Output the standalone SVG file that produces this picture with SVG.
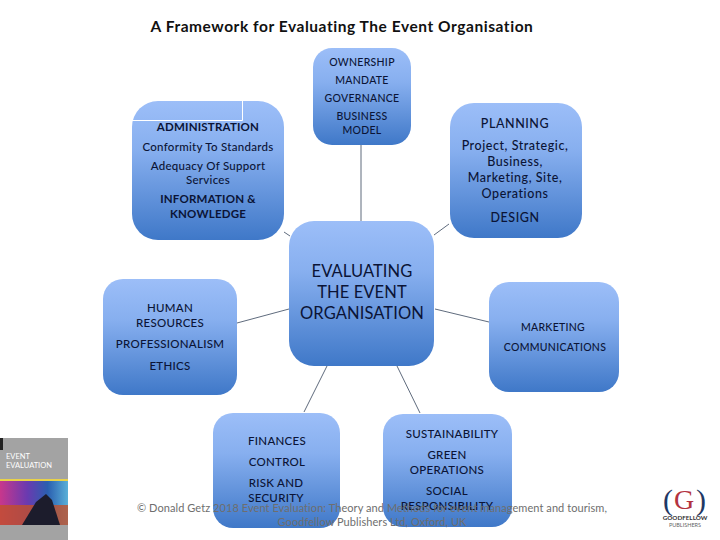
<svg xmlns="http://www.w3.org/2000/svg" width="720" height="540" viewBox="0 0 720 540">
<style>
text{font-family:Lato,"Noto Sans","Liberation Sans",sans-serif;text-anchor:middle;fill:#0b1436}
.s{font-size:11.5px;font-weight:500;letter-spacing:.28px}
.b{font-size:11.5px;font-weight:700;letter-spacing:.2px}
.p{font-size:12.500px;font-weight:500;letter-spacing:.55px}
.e{font-size:16.500px;letter-spacing:.1px}
.box{fill:url(#g)}
.c{stroke:#4d5a6e;stroke-width:.9;fill:none}
.f{font-size:11px;fill:#6e6e6e;letter-spacing:.07px}
</style>
<defs><linearGradient id="g" x1="0" y1="0" x2="0" y2="1"><stop offset="0" stop-color="#9cbef8"/><stop offset=".35" stop-color="#87afef"/><stop offset="1" stop-color="#3f78c8"/></linearGradient>
<linearGradient id="p" x1="0" y1="0" x2="1" y2="0"><stop offset="0" stop-color="#c8378c"/><stop offset=".4" stop-color="#6a3ab0"/><stop offset=".7" stop-color="#2a5fb0"/><stop offset="1" stop-color="#5ab0d8"/></linearGradient></defs>
<rect width="720" height="540" fill="#fff"/>
<text x="342" y="32" style="font-size:15.500px;font-weight:700;fill:#111;letter-spacing:.55px">A Framework for Evaluating The Event Organisation</text>
<g id="connectors">
<path class="c" d="M361 145V221M284 232L290 236M449 224L434 235M237 323L289 309M435 309L489 322M327 366L304 412M397 366L420 413"/>
</g>
<g id="ownership"><rect class="box" x="313" y="48" width="98" height="97" rx="19"/>
<text class="s" x="362" y="66" style="font-size:10.500px">OWNERSHIP</text><text class="s" x="362" y="84" style="font-size:10.500px">MANDATE</text><text class="s" x="362" y="102" style="font-size:10.500px">GOVERNANCE</text><text class="s" x="362" y="120" style="font-size:10.500px">BUSINESS</text><text class="s" x="362" y="134" style="font-size:10.500px">MODEL</text></g>
<g id="administration"><rect class="box" x="132" y="101" width="152" height="139" rx="26"/>
<path d="M132 120.500H242.500V101" fill="none" stroke="#fff" stroke-width="1"/>
<text class="b" x="208" y="131">ADMINISTRATION</text><text class="s" x="208" y="151">Conformity To Standards</text><text class="s" x="208" y="170">Adequacy Of Support</text><text class="s" x="208" y="184">Services</text><text class="b" x="208" y="203">INFORMATION &amp;</text><text class="b" x="208" y="218">KNOWLEDGE</text></g>
<g id="planning"><rect class="box" x="450" y="103" width="132" height="135" rx="24"/>
<text class="p" x="515" y="128">PLANNING</text><text class="p" x="515" y="150">Project, Strategic,</text><text class="p" x="515" y="166">Business,</text><text class="p" x="515" y="182">Marketing, Site,</text><text class="p" x="515" y="198">Operations</text><text class="p" x="515" y="222">DESIGN</text></g>
<g id="evaluating"><rect class="box" x="289" y="221" width="145" height="145" rx="25"/>
<text class="e" x="362" y="277">EVALUATING</text><text class="e" x="362" y="298">THE EVENT</text><text class="e" x="362" y="319">ORGANISATION</text></g>
<g id="human-resources"><rect class="box" x="103" y="279" width="134" height="116" rx="20"/>
<text class="s" x="170" y="312">HUMAN</text><text class="s" x="170" y="327">RESOURCES</text><text class="s" x="170" y="348">PROFESSIONALISM</text><text class="s" x="170" y="370">ETHICS</text></g>
<g id="marketing"><rect class="box" x="489" y="282" width="130" height="110" rx="20"/>
<text class="s" x="553" y="331" style="font-size:10.500px">MARKETING</text><text class="s" x="555" y="351" style="font-size:10.500px">COMMUNICATIONS</text></g>
<g id="finances"><rect class="box" x="213" y="413" width="127" height="115" rx="20"/>
<text class="s" x="277" y="445">FINANCES</text><text class="s" x="277" y="466">CONTROL</text><text class="s" x="276" y="487">RISK AND</text><text class="s" x="276" y="502">SECURITY</text></g>
<g id="sustainability"><rect class="box" x="383" y="414" width="129" height="113" rx="20"/>
<text class="s" x="452" y="438">SUSTAINABILITY</text><text class="s" x="447" y="459">GREEN</text><text class="s" x="447" y="474">OPERATIONS</text><text class="s" x="447" y="495">SOCIAL</text><text class="s" x="447" y="510">RESPONSIBILITY</text></g>
<text class="f" x="372" y="512">© Donald Getz 2018 Event Evaluation: Theory and Methods for event management and tourism,</text>
<text class="f" x="372" y="526">Goodfellow Publishers Ltd, Oxford, UK</text>
<rect x="0" y="438" width="68" height="102" fill="#a3a3a3"/>
<rect x="0" y="438" width="3" height="12" fill="#222"/>
<text x="6" y="459" style="font-size:7.500px;fill:#fff;text-anchor:start">EVENT</text><text x="6" y="468" style="font-size:7.500px;fill:#fff;text-anchor:start">EVALUATION</text>
<rect x="0" y="480" width="68" height="45" fill="url(#p)"/>
<rect x="0" y="479" width="68" height="2" fill="#e8d24a"/>
<rect x="0" y="505" width="68" height="20" fill="#c2502a" opacity=".8"/>
<path d="M22 525L36 502L46 494L52 500L60 525Z" fill="#1c1c2c"/>
<text x="668" y="510" style="font-size:30px;font-family:'Liberation Serif',serif;fill:#1f3864">(</text>
<text x="684" y="509" style="font-size:28px;font-family:'Liberation Serif',serif;fill:#b3333f">G</text>
<text x="701" y="510" style="font-size:30px;font-family:'Liberation Serif',serif;fill:#1f3864">)</text>
<text x="685" y="520" style="font-size:6.300px;font-weight:700;fill:#333">GOODFELLOW</text>
<text x="685" y="527" style="font-size:5.500px;fill:#666">PUBLISHERS</text>
</svg>
